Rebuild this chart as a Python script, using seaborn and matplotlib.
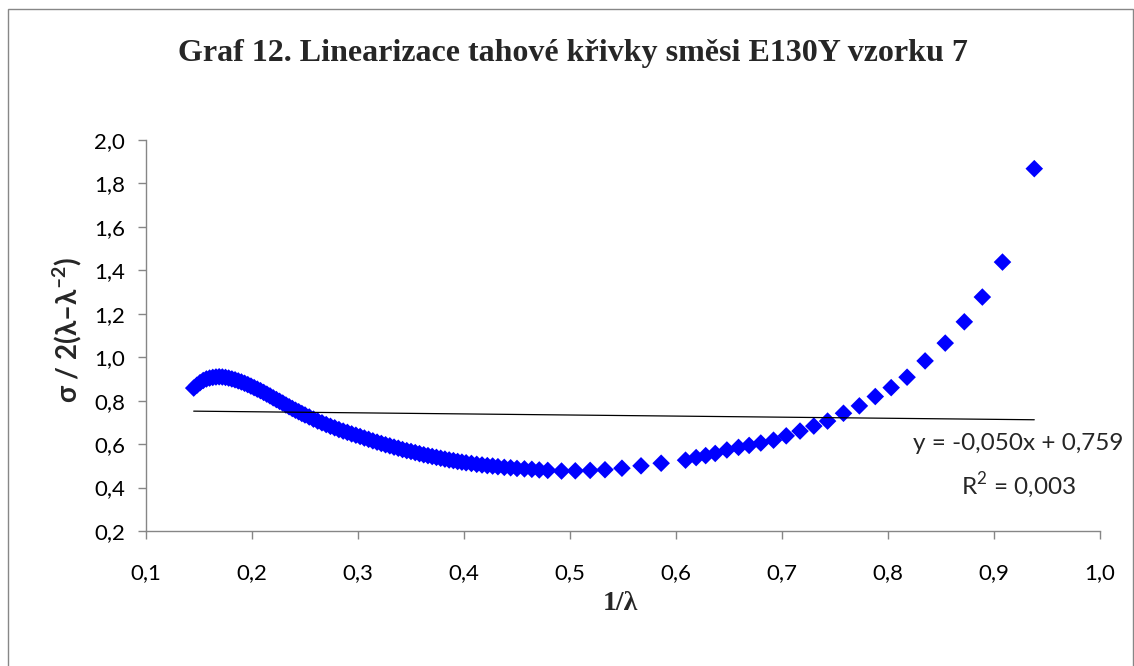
import matplotlib
matplotlib.use("Agg")
import matplotlib.pyplot as plt
from matplotlib.patches import Rectangle
from matplotlib.ticker import FixedLocator, FixedFormatter
import seaborn as sns
import pandas as pd

# 1/lambda values of the measured points
inv_lambda = [
    0.145, 0.148, 0.151, 0.154, 0.157, 0.160, 0.163, 0.166, 0.169, 0.172,
    0.175, 0.178, 0.181, 0.184, 0.187, 0.190, 0.193, 0.196, 0.199, 0.202,
    0.205, 0.208, 0.211, 0.214, 0.217, 0.220, 0.223, 0.226, 0.229, 0.232,
    0.235, 0.238, 0.241, 0.244, 0.247, 0.250, 0.254, 0.258, 0.262, 0.266,
    0.270, 0.274, 0.278, 0.282, 0.286, 0.290, 0.294, 0.298, 0.302, 0.306,
    0.310, 0.314, 0.318, 0.322, 0.326, 0.330, 0.334, 0.338, 0.342, 0.346,
    0.350, 0.354, 0.358, 0.362, 0.366, 0.370, 0.374, 0.378, 0.382, 0.386,
    0.390, 0.394, 0.398, 0.402, 0.407, 0.412, 0.417, 0.422, 0.427, 0.432,
    0.438, 0.444, 0.450, 0.457, 0.464, 0.471, 0.479,
    0.492, 0.505, 0.519, 0.533, 0.549, 0.567, 0.586, 0.609, 0.619, 0.628,
    0.637, 0.648, 0.659, 0.669, 0.680, 0.692, 0.704, 0.717, 0.730, 0.743,
    0.758, 0.773, 0.788, 0.803, 0.818, 0.835, 0.854, 0.872, 0.889, 0.908,
    0.938,
]

# reduced stress sigma / 2(lambda - lambda^-2)
reduced_stress = [
    0.858, 0.871, 0.883, 0.893, 0.900, 0.904, 0.907, 0.909, 0.910, 0.909,
    0.907, 0.904, 0.900, 0.896, 0.891, 0.886, 0.880, 0.874, 0.867, 0.860,
    0.853, 0.846, 0.838, 0.830, 0.822, 0.813, 0.805, 0.797, 0.789, 0.780,
    0.772, 0.764, 0.756, 0.749, 0.741, 0.734, 0.725, 0.715, 0.706, 0.698,
    0.690, 0.682, 0.675, 0.667, 0.660, 0.654, 0.647, 0.641, 0.635, 0.628,
    0.622, 0.615, 0.609, 0.603, 0.597, 0.592, 0.586, 0.581, 0.575, 0.570,
    0.566, 0.561, 0.556, 0.551, 0.547, 0.543, 0.539, 0.535, 0.531, 0.527,
    0.524, 0.520, 0.517, 0.514, 0.511, 0.507, 0.504, 0.501, 0.499, 0.496,
    0.493, 0.491, 0.488, 0.486, 0.484, 0.481, 0.479,
    0.476, 0.477, 0.479, 0.482, 0.489, 0.500, 0.512, 0.526, 0.538, 0.547,
    0.557, 0.573, 0.585, 0.594, 0.605, 0.618, 0.638, 0.660, 0.683, 0.706,
    0.742, 0.776, 0.819, 0.860, 0.908, 0.983, 1.065, 1.163, 1.277, 1.438,
    1.868,
]

# linear trendline coefficients
trend_slope = -0.050
trend_intercept = 0.759
trend_r2 = 0.003

x_ticks = [0.1, 0.2, 0.3, 0.4, 0.5, 0.6, 0.7, 0.8, 0.9, 1.0]
x_tick_labels = ["0,1", "0,2", "0,3", "0,4", "0,5", "0,6", "0,7", "0,8", "0,9", "1,0"]
y_ticks = [0.2, 0.4, 0.6, 0.8, 1.0, 1.2, 1.4, 1.6, 1.8, 2.0]
y_tick_labels = ["0,2", "0,4", "0,6", "0,8", "1,0", "1,2", "1,4", "1,6", "1,8", "2,0"]

title = "Graf 12. Linearizace tahové křivky směsi E130Y vzorku 7"
x_label = "1/λ"
y_label = r"σ / 2(λ–λ$^{\mathregular{–2}}$)"

sns.set_theme(style="white")
sans = ["Lato", "DejaVu Sans"]
serif = ["Liberation Serif", "DejaVu Serif"]
plt.rcParams["font.family"] = sans
plt.rcParams["mathtext.fontset"] = "custom"
plt.rcParams["mathtext.rm"] = "Lato"
plt.rcParams["mathtext.bf"] = "Lato:bold"

W, H = 1134, 666
fig = plt.figure(figsize=(W / 100, H / 100), dpi=100)
fig.patch.set_facecolor("white")
ax = fig.add_axes([146 / W, 1 - 531 / H, (1100 - 146) / W, (531 - 140) / H])

df = pd.DataFrame({"x": inv_lambda, "y": reduced_stress})
sns.scatterplot(data=df, x="x", y="y", ax=ax, marker="D", s=80,
                color="#0000FF", edgecolor="none", linewidth=0, zorder=3)

# trendline across the data range
x0, x1 = min(inv_lambda), max(inv_lambda)
ax.plot([x0, x1], [trend_slope * x0 + trend_intercept, trend_slope * x1 + trend_intercept],
        color="black", lw=0.9, zorder=4)

ax.set_xlim(0.1, 1.0)
ax.set_ylim(0.2, 2.0)
ax.xaxis.set_major_locator(FixedLocator(x_ticks))
ax.xaxis.set_major_formatter(FixedFormatter(x_tick_labels))
ax.yaxis.set_major_locator(FixedLocator(y_ticks))
ax.yaxis.set_major_formatter(FixedFormatter(y_tick_labels))
ax.set_xlabel("")
ax.set_ylabel("")

axis_gray = "#868686"
for side in ["top", "right"]:
    ax.spines[side].set_visible(False)
for side in ["left", "bottom"]:
    ax.spines[side].set_color(axis_gray)
    ax.spines[side].set_linewidth(1.0)
ax.tick_params(axis="both", which="major", direction="out", length=6, width=1.0,
               color=axis_gray, labelsize=16, labelcolor="black")
ax.tick_params(axis="x", pad=17, bottom=True)
ax.tick_params(axis="y", pad=9, left=True)
for lbl in ax.get_xticklabels() + ax.get_yticklabels():
    lbl.set_family(sans)

# chart title and axis titles
fig.text(573 / W, 1 - 61 / H, title, ha="center", va="baseline",
         family=serif, fontweight="bold", fontsize=23)
fig.text(620 / W, 1 - 603 / H, x_label, ha="center", va="center",
         family=serif, fontweight="bold", fontsize=20)
fig.text(67 / W, 1 - 330 / H, y_label, ha="center", va="center", rotation=90,
         family=sans, fontweight="bold", fontsize=20)

# trendline equation
eq_text = f"y = {trend_slope:.3f}x + {trend_intercept:.3f}".replace(".", ",")
r2_text = r"R$^{\mathregular{2}}$ = " + f"{trend_r2:.3f}".replace(".", ",")
fig.text(1018 / W, 1 - 443 / H, eq_text, ha="center", va="center",
         family=sans, fontsize=17.5)
fig.text(1018 / W, 1 - 486 / H, r2_text, ha="center", va="center",
         family=sans, fontsize=17.5)

# outer chart frame
fig.patches.append(Rectangle((7.5 / W, -0.05), (1133 - 7.5) / W, 1.05 - 9 / H,
                             transform=fig.transFigure, fill=False,
                             edgecolor="#878787", linewidth=1.0))

fig.savefig("out.png", dpi=100)
